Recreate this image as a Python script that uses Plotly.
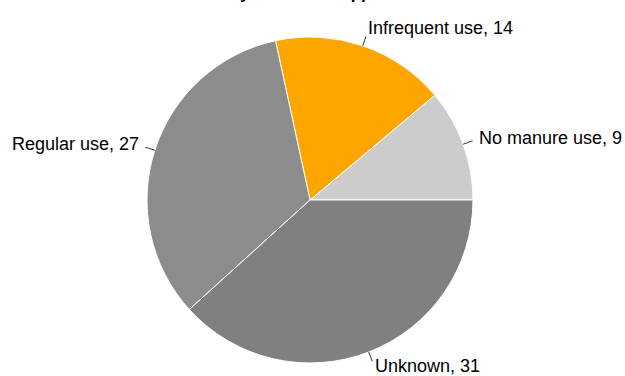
import math
import plotly.graph_objects as go

labels = ["No manure use", "Infrequent use", "Regular use", "Unknown"]
values = [9, 14, 27, 31]
colors = ["#cccccc", "#ffa500", "#8c8c8c", "#808080"]
title_text = "History of manure application"

W, H = 625, 376
dom_x = [0.2352, 0.7568]
dom_y = [0.0346, 0.9016]
start_angle = 0.0  # degrees, counterclockwise from 3 o'clock
FONT = "Liberation Sans, Arial, sans-serif"

fig = go.Figure(go.Pie(
    labels=labels,
    values=values,
    sort=False,
    direction="counterclockwise",
    rotation=50,
    marker=dict(colors=colors, line=dict(color="white", width=1)),
    textinfo="none",
    domain=dict(x=dom_x, y=dom_y),
    hoverinfo="label+value",
))

# outside labels with leader lines, placed from the data angles
cx = (dom_x[0] + dom_x[1]) / 2 * W
cy = (1 - (dom_y[0] + dom_y[1]) / 2) * H
r = min((dom_x[1] - dom_x[0]) * W, (dom_y[1] - dom_y[0]) * H) / 2
total = sum(values)
acc = 0
annotations = []
shapes = []
for lab, val in zip(labels, values):
    mid = math.radians(start_angle + (acc + val / 2) / total * 360)
    acc += val
    c, s = math.cos(mid), math.sin(mid)
    x0, y0 = cx + r * c, cy - r * s
    x1, y1 = cx + (r + 10) * c, cy - (r + 10) * s
    shapes.append(dict(type="line", xref="paper", yref="paper",
                       x0=x0 / W, y0=1 - y0 / H, x1=x1 / W, y1=1 - y1 / H,
                       line=dict(color="#333333", width=1)))
    gap = 6.5 * abs(c) - 1
    tx = x1 + gap if c > 0 else x1 - gap
    ty = y1 - (9 * s if s > 0 else 5 * s)
    annotations.append(dict(
        x=tx / W, y=1 - ty / H, xref="paper", yref="paper",
        showarrow=False, text=f"{lab}, {val}",
        xanchor="left" if c > 0 else "right", yanchor="middle",
        borderpad=0,
        font=dict(family=FONT, size=18, color="black"),
    ))

annotations.append(dict(
    text="<b>" + title_text + "</b>", x=0.497, y=1.0, xref="paper", yref="paper",
    xanchor="center", yanchor="middle", yshift=7, showarrow=False,
    font=dict(family=FONT, size=17, color="black"),
))

fig.update_layout(
    width=W, height=H,
    margin=dict(l=0, r=0, t=0, b=0),
    paper_bgcolor="white",
    showlegend=False,
    annotations=annotations,
    shapes=shapes,
)

fig.write_html("out.html")
